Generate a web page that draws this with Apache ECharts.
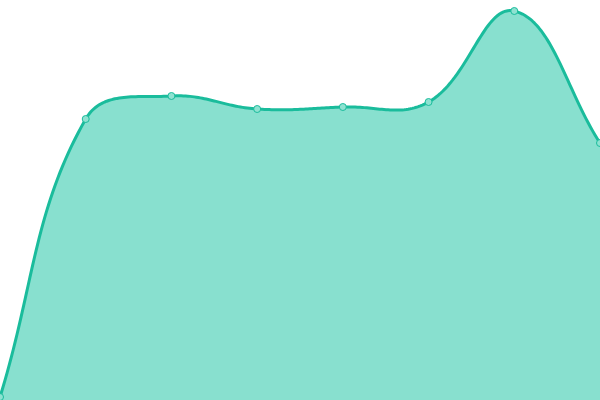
<!DOCTYPE html>
<html><head><meta charset="utf-8">
<script src="https://cdn.jsdelivr.net/npm/echarts@6/dist/echarts.min.js"></script>
<style>html,body{margin:0;padding:0;background:#fff}#c{width:600px;height:400px}</style>
</head><body><div id="c"></div>
<script>
const categories = ['A','B','C','D','E','F','G','H'];
const values = [3, 281, 304, 291, 293, 298, 389, 257];
const lineColor = '#1abc9c';
const fillColor = '#88e0cf';
const pointFill = '#8ee2d1';
const tension = 0.4;

function splineCP(prev, cur, next, t) {
  const d01 = Math.hypot(cur[0]-prev[0], cur[1]-prev[1]);
  const d12 = Math.hypot(next[0]-cur[0], next[1]-cur[1]);
  let s01 = d01/(d01+d12), s12 = d12/(d01+d12);
  if (isNaN(s01)) s01 = 0; if (isNaN(s12)) s12 = 0;
  const fa = t*s01, fb = t*s12;
  return {
    prev: [cur[0]-fa*(next[0]-prev[0]), cur[1]-fa*(next[1]-prev[1])],
    next: [cur[0]+fb*(next[0]-prev[0]), cur[1]+fb*(next[1]-prev[1])]
  };
}

function renderCurve(params, api) {
  if (params.dataIndex !== 0) return null;
  const n = values.length;
  const pts = values.map((v, i) => api.coord([i, v]));
  const left = api.coord([0, 0])[0], right = api.coord([n-1, 0])[0];
  const bottom = api.coord([0, 0])[1], top = api.coord([0, 400])[1];
  const clamp = (p) => [Math.min(Math.max(p[0], left), right), Math.min(Math.max(p[1], top), bottom)];
  const cps = pts.map((p, i) => {
    const prev = pts[Math.max(i-1, 0)], next = pts[Math.min(i+1, n-1)];
    const c = splineCP(prev, p, next, tension);
    return {prev: clamp(c.prev), next: clamp(c.next)};
  });
  const curve = [pts[0]];
  const steps = 40;
  for (let i = 0; i < n-1; i++) {
    const p0 = pts[i], c1 = cps[i].next, c2 = cps[i+1].prev, p3 = pts[i+1];
    for (let s = 1; s <= steps; s++) {
      const t = s/steps, u = 1-t;
      curve.push([
        u*u*u*p0[0] + 3*u*u*t*c1[0] + 3*u*t*t*c2[0] + t*t*t*p3[0],
        u*u*u*p0[1] + 3*u*u*t*c1[1] + 3*u*t*t*c2[1] + t*t*t*p3[1]
      ]);
    }
  }
  const area = curve.concat([[pts[n-1][0], bottom], [pts[0][0], bottom]]);
  return {
    type: 'group',
    children: [
      {type: 'polygon', shape: {points: area}, style: {fill: fillColor, stroke: null}},
      {type: 'polyline', shape: {points: curve}, style: {stroke: lineColor, lineWidth: 3, fill: null, lineJoin: 'round'}}
    ]
  };
}

const chart = echarts.init(document.getElementById('c'));
chart.setOption({
  animation: false,
  grid: {left: 0, right: 0, top: 0, bottom: 0},
  xAxis: {type: 'category', data: categories, boundaryGap: false, show: false},
  yAxis: {type: 'value', min: 0, max: 400, show: false},
  series: [
    {type: 'custom', data: values, renderItem: renderCurve, z: 1, clip: false},
    {
      type: 'line',
      data: values,
      z: 3,
      symbol: 'circle',
      symbolSize: 7,
      itemStyle: {color: pointFill, borderColor: lineColor, borderWidth: 1},
      lineStyle: {width: 0, opacity: 0}
    }
  ]
});
</script></body></html>
